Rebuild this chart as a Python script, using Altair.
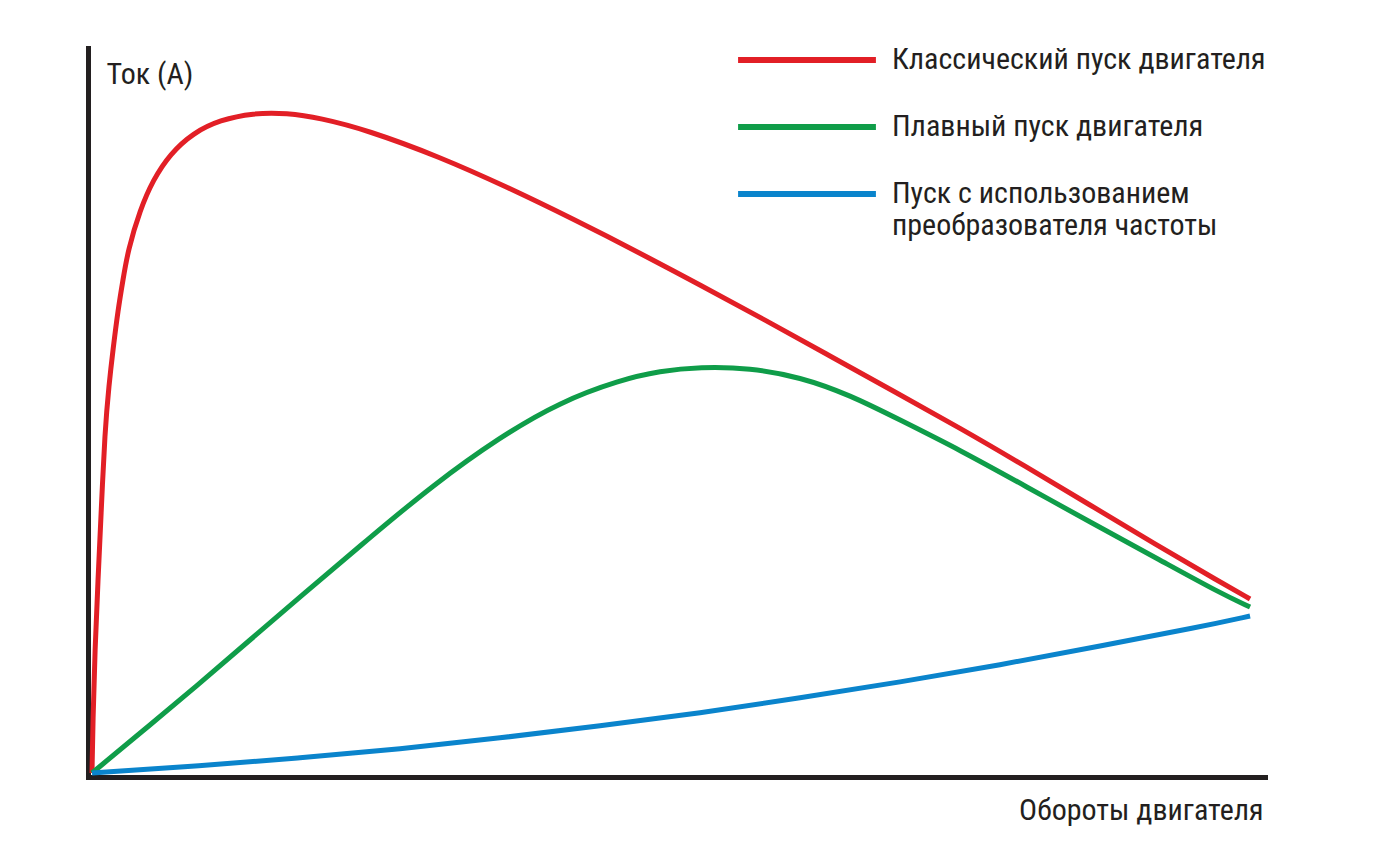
import altair as alt
import pandas as pd

series_names = [
    "Классический пуск двигателя",
    "Плавный пуск двигателя",
    "Пуск с использованием|преобразователя частоты",
]
colors = ["#e21f26", "#0f9d49", "#0a84cc"]

red_x = [0.34, 0.42, 0.59, 0.85, 1.10, 1.44, 1.78, 2.12, 2.55, 2.97, 3.40, 4.42, 5.52, 6.97, 8.92,
         11.21, 14.02, 16.91, 19.71, 23.70, 29.91, 35.60, 41.21, 46.90, 52.00, 57.52, 63.04, 68.56,
         74.09, 79.61, 85.13, 90.65, 96.18, 98.73]
red_y = [0.28, 7.57, 17.19, 26.82, 35.49, 47.46, 53.64, 58.46, 63.96, 68.09, 72.21, 77.72, 81.84,
         85.42, 88.31, 90.10, 91.06, 91.06, 90.37, 88.72, 85.01, 80.88, 76.48, 71.80, 67.40, 62.59,
         57.63, 52.68, 47.73, 42.50, 37.14, 31.78, 26.55, 24.21]

green_x = [0.34, 5.27, 9.52, 13.76, 18.01, 23.70, 29.31, 35.00, 40.10, 45.20, 48.60, 52.00, 56.24,
           60.49, 64.74, 68.99, 74.09, 79.78, 85.13, 91.08, 96.18, 98.73]
green_y = [0.28, 6.88, 12.65, 18.57, 24.48, 32.32, 39.89, 46.49, 51.31, 54.33, 55.57, 56.12, 55.99,
           54.75, 52.27, 48.83, 44.70, 39.61, 34.80, 29.57, 25.03, 23.11]

blue_x = [0.34, 9.52, 18.01, 26.51, 35.00, 43.50, 52.00, 60.49, 68.99, 77.48, 85.98, 94.48, 98.73]
blue_y = [0.28, 1.24, 2.34, 3.58, 5.09, 6.74, 8.53, 10.59, 12.79, 15.13, 17.74, 20.36, 21.87]

rows = []
for name, xs, ys in zip(series_names, [red_x, green_x, blue_x], [red_y, green_y, blue_y]):
    for i, (xv, yv) in enumerate(zip(xs, ys)):
        rows.append({"series": name, "x": xv, "y": yv, "i": i})
df = pd.DataFrame(rows)

FONT = "Roboto Condensed, Liberation Sans Narrow, DejaVu Sans Condensed, Roboto, sans-serif"

chart = (
    alt.Chart(df)
    .mark_line(strokeWidth=5, interpolate="basis", strokeCap="butt")
    .encode(
        x=alt.X(
            "x:Q",
            scale=alt.Scale(domain=[0, 100], nice=False, zero=False),
            axis=alt.Axis(
                title="Обороты двигателя",
                labels=False, ticks=False, grid=False,
                domainColor="#231f20", domainWidth=5, domainCap="square",
                offset=2,
                titleFont=FONT, titleFontSize=30, titleFontWeight="normal",
                titleColor="#231f20", titleAlign="right", titleBaseline="alphabetic",
                titleX=1175, titleY=42, titleAnchor="end",
            ),
        ),
        y=alt.Y(
            "y:Q",
            scale=alt.Scale(domain=[0, 100], nice=False, zero=False),
            axis=alt.Axis(
                title="Ток (А)",
                labels=False, ticks=False, grid=False,
                domainColor="#231f20", domainWidth=5, domainCap="square",
                titleFont=FONT, titleFontSize=30, titleFontWeight="normal",
                titleColor="#231f20", titleAngle=0, titleAlign="left",
                titleBaseline="alphabetic", titleX=18, titleY=35,
            ),
        ),
        color=alt.Color(
            "series:N",
            scale=alt.Scale(domain=series_names, range=colors),
            legend=alt.Legend(
                title=None,
                orient="none", legendX=647, legendY=-3,
                direction="vertical",
                symbolType="stroke", symbolSize=19000, symbolStrokeWidth=6,
                labelFont=FONT, labelFontSize=30, labelColor="#231f20",
                labelLimit=0, labelOffset=13,
                labelExpr="split(datum.label, '|')",
                clipHeight=30, rowPadding=37, padding=0,
            ),
        ),
        order="i:Q",
    )
    .properties(
        width=1177, height=727,
        padding={"left": 80, "top": 40, "right": 100, "bottom": 70},
        autosize=alt.AutoSizeParams(type="none"),
        background="white",
    )
    .configure_view(strokeWidth=0, stroke=None)
)

chart.save("out.html", embed_options={"renderer": "svg", "actions": False})
